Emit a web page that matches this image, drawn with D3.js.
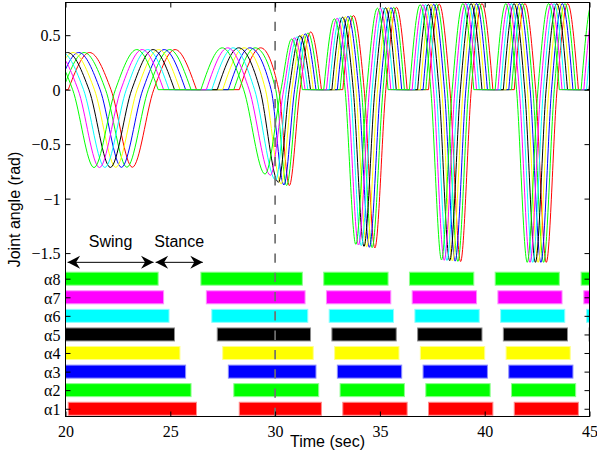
<!DOCTYPE html>
<html><head><meta charset="utf-8">
<script src="https://cdn.jsdelivr.net/npm/d3@7"></script>
<style>body{margin:0;background:#fff}svg{display:block}</style>
</head><body><svg id="c" width="597" height="462"></svg>
<script>
// ---------- data ----------
const rowLabels = ["α1","α2","α3","α4","α5","α6","α7","α8"];
const rowColors = ["#ff0000","#00ff00","#0000ff","#ffff00","#000000","#00ffff","#ff00ff","#00ff00"];
const rowLevels = [-2.929,-2.758,-2.588,-2.417,-2.247,-2.076,-1.906,-1.735];
const angleTicks = [0.5,0,-0.5,-1,-1.5];
const timeTicks = [20,25,30,35,40,45];
const switchTime = 30;
const swingSpan = [20.1,24.2];
const stanceSpan = [24.3,26.55];
const arrowLevel = -1.585;

// key times of each swing cycle: start, peak, zero, trough, zero, peak, end (rows α1..α8)
const cycle0Times = [
  [20.13,21.15,22.17,23.19,24.21,25.23,26.25],
  [19.87,20.89,21.91,22.93,23.95,24.97,25.99],
  [19.61,20.63,21.65,22.67,23.69,24.71,25.73],
  [19.34,20.36,21.38,22.40,23.42,24.44,25.46],
  [19.08,20.10,21.12,22.14,23.16,24.18,25.20],
  [18.82,19.84,20.86,21.88,22.90,23.92,24.94],
  [18.56,19.58,20.60,21.62,22.64,23.66,24.68],
  [18.30,19.32,20.34,21.36,22.38,23.40,24.42]];
const cycle1Times = [
  [28.29,29.31,30.17,30.68,31.19,31.70,32.21],
  [28.03,29.05,30.03,30.55,31.06,31.57,32.08],
  [27.77,28.79,29.81,30.42,30.93,31.44,31.95],
  [27.50,28.52,29.54,30.29,30.80,31.31,31.82],
  [27.24,28.26,29.28,30.16,30.67,31.18,31.69],
  [26.98,28.00,29.02,30.03,30.54,31.05,31.56],
  [26.72,27.74,28.76,29.78,30.41,30.92,31.43],
  [26.46,27.48,28.50,29.52,30.28,30.79,31.30]];
const cycle2Times = [
  [33.23,33.74,34.25,34.76,35.28,35.79,36.30],
  [33.10,33.61,34.12,34.63,35.15,35.66,36.17],
  [32.97,33.48,33.99,34.50,35.02,35.53,36.04],
  [32.84,33.35,33.86,34.37,34.89,35.40,35.91],
  [32.71,33.22,33.73,34.24,34.76,35.27,35.78],
  [32.58,33.09,33.60,34.11,34.63,35.14,35.65],
  [32.45,32.96,33.47,33.98,34.50,35.01,35.52],
  [32.32,32.83,33.34,33.85,34.37,34.88,35.39]];
const cycle3Times = [
  [37.32,37.83,38.34,38.85,39.36,39.87,40.39],
  [37.19,37.70,38.21,38.72,39.23,39.74,40.26],
  [37.06,37.57,38.08,38.59,39.10,39.61,40.13],
  [36.93,37.44,37.95,38.46,38.97,39.48,40.00],
  [36.80,37.31,37.82,38.33,38.84,39.35,39.87],
  [36.67,37.18,37.69,38.20,38.71,39.22,39.74],
  [36.54,37.05,37.56,38.07,38.58,39.09,39.61],
  [36.41,36.92,37.43,37.94,38.45,38.96,39.48]];
const cycle4Times = [
  [41.41,41.92,42.43,42.94,43.45,43.96,44.47],
  [41.28,41.79,42.30,42.81,43.32,43.83,44.34],
  [41.15,41.66,42.17,42.68,43.19,43.70,44.21],
  [41.02,41.53,42.04,42.55,43.06,43.57,44.08],
  [40.89,41.40,41.91,42.42,42.93,43.44,43.95],
  [40.76,41.27,41.78,42.29,42.80,43.31,43.82],
  [40.63,41.14,41.65,42.16,42.67,43.18,43.69],
  [40.50,41.01,41.52,42.03,42.54,43.05,43.56]];
const cycle5Times = [
  null, null, null, null,
  [44.98,45.49,46.00],
  [44.86,45.37,45.88],
  [44.73,45.24,45.75],
  [44.60,45.11,45.62]];

// lobe amplitudes (rad) per cycle, rows α1..α8
const firstPeak = [
  [0.341,0.341,0.341,0.341,0.341,0.341,0.341,0.341],
  [0.384,0.384,0.384,0.384,0.384,0.384,0.384,0.384],
  [0.680,0.677,0.673,0.670,0.665,0.660,0.655,0.650],
  [0.785,0.785,0.784,0.783,0.782,0.781,0.780,0.780],
  [0.790,0.790,0.790,0.790,0.790,0.790,0.790,0.790],
  [0.790,0.790,0.790,0.790,0.790,0.790,0.790,0.790]];
const trough = [
  [-0.712,-0.712,-0.713,-0.713,-0.714,-0.714,-0.715,-0.715],
  [-0.880,-0.880,-0.875,-0.865,-0.850,-0.830,-0.785,-0.775],
  [-1.453,-1.450,-1.447,-1.443,-1.438,-1.432,-1.426,-1.420],
  [-1.578,-1.576,-1.574,-1.572,-1.570,-1.568,-1.566,-1.563],
  [-1.585,-1.585,-1.585,-1.585,-1.585,-1.585,-1.585,-1.585],
  [-1.585,-1.585,-1.585,-1.585,-1.585,-1.585,-1.585,-1.585]];
const secondPeak = [
  [0.368,0.368,0.368,0.368,0.368,0.368,0.368,0.368],
  [0.530,0.520,0.512,0.505,0.495,0.485,0.475,0.465],
  [0.755,0.755,0.753,0.752,0.751,0.750,0.749,0.748],
  [0.790,0.790,0.790,0.790,0.790,0.790,0.790,0.790],
  [0.790,0.790,0.790,0.790,0.790,0.790,0.790,0.790],
  [0.790,0.790,0.790,0.790,0.790,0.790,0.790,0.790]];

const cycles = [cycle0Times,cycle1Times,cycle2Times,cycle3Times,cycle4Times,cycle5Times];

// ---------- drawing ----------
const svg = d3.select("#c");
const x = d3.scaleLinear().domain([20,45]).range([65.5,589.5]);
const y = d3.scaleLinear().domain([-3,0.8]).range([416.5,2.5]);
const [x0,x1] = x.range(), [yb,yt] = y.range();
const SANS = "'Liberation Sans', Arial, Helvetica, sans-serif";
const SERIF = "'Liberation Serif', 'Times New Roman', Times, serif";

svg.append("defs").append("clipPath").attr("id","plot")
  .append("rect").attr("x",x0).attr("y",yt).attr("width",x1-x0).attr("height",yb-yt);

const plot = svg.append("g").attr("clip-path","url(#plot)");

// bars
const barG = plot.append("g");
rowLabels.forEach((lab,k)=>{
  const c = rowColors[k];
  const edge = d3.interpolateRgb(c,"#ffffff")(0.55);
  cycles.forEach(ct=>{
    const t = ct[k]; if(!t) return;
    const s = t[0], e = t.length===7 ? t[6] : x.domain()[1]+1;
    barG.append("rect")
      .attr("x",x(s)).attr("width",x(e)-x(s))
      .attr("y",y(rowLevels[k])-6.5).attr("height",13)
      .attr("fill",c).attr("stroke",edge).attr("stroke-width",1);
  });
});

// curves
const smooth = d3.line().x(d=>x(d[0])).y(d=>y(d[1])).curve(d3.curveMonotoneX);
const straight = d3.line().x(d=>x(d[0])).y(d=>y(d[1]));
const curveG = plot.append("g").attr("fill","none").attr("stroke-width",1);
rowLabels.forEach((lab,k)=>{
  const c = rowColors[k];
  let prevEnd = 18;
  cycles.forEach((ct,p)=>{
    const t = ct[k]; if(!t) return;
    const vals = [0, firstPeak[p][k], 0, trough[p][k], 0, secondPeak[p][k], 0];
    const pts = t.map((tt,i)=>[tt, vals[i]]);
    curveG.append("path").attr("d",straight([[prevEnd,0],[t[0],0]])).attr("stroke",c);
    curveG.append("path").attr("d",smooth(pts)).attr("stroke",c);
    prevEnd = t.length===7 ? t[6] : null;
  });
  if(prevEnd!==null) curveG.append("path").attr("d",straight([[prevEnd,0],[46,0]])).attr("stroke",c);
});

// dashed switch line
svg.append("line").attr("x1",x(switchTime)).attr("x2",x(switchTime))
  .attr("y1",yt).attr("y2",yb).attr("stroke","#707070").attr("stroke-width",1.7)
  .attr("stroke-dasharray","9.3,10");

// frame
svg.append("rect").attr("x",x0).attr("y",yt).attr("width",x1-x0).attr("height",yb-yt)
  .attr("fill","none").attr("stroke","#000").attr("stroke-width",1);

// axes
const leftTicks = angleTicks.concat(rowLevels);
const fmtY = v => { const i = rowLevels.indexOf(v); return i>=0 ? rowLabels[i] : d3.format("")(v); };
function styleAxis(g){
  g.select(".domain").remove();
  g.selectAll(".tick line").attr("stroke","#000");
  g.selectAll("text").attr("font-family",SERIF).attr("font-size",16).attr("fill","#000");
}
svg.append("g").attr("transform",`translate(${x0},0)`)
  .call(d3.axisLeft(y).tickValues(leftTicks).tickSize(-5).tickPadding(5).tickFormat(fmtY))
  .call(styleAxis).selectAll("text").attr("dy","0.36em");
svg.append("g").attr("transform",`translate(${x1},0)`)
  .call(d3.axisRight(y).tickValues(leftTicks).tickSize(-5).tickFormat(""))
  .call(styleAxis);
svg.append("g").attr("transform",`translate(0,${yb})`)
  .call(d3.axisBottom(x).tickValues(timeTicks).tickSize(-5).tickPadding(9).tickFormat(d3.format("d")))
  .call(styleAxis);
svg.append("g").attr("transform",`translate(0,${yt})`)
  .call(d3.axisTop(x).tickValues(timeTicks).tickSize(-5).tickFormat(""))
  .call(styleAxis);

// axis labels
svg.append("text").attr("x",(x0+x1)/2).attr("y",447).attr("text-anchor","middle")
  .attr("font-family",SANS).attr("font-size",16).text("Time (sec)");
svg.append("text").attr("transform",`translate(20,${(yt+yb)/2}) rotate(-90)`)
  .attr("text-anchor","middle").attr("font-family",SANS).attr("font-size",16).text("Joint angle (rad)");

// swing / stance annotation
function arrowHead(tx,ty,dir){
  return `M${tx},${ty}L${tx-dir*12.5},${ty-6.5}L${tx-dir*8.5},${ty}L${tx-dir*12.5},${ty+6.5}Z`;
}
const ann = svg.append("g");
[[swingSpan,"Swing"],[stanceSpan,"Stance"]].forEach(([sp,label])=>{
  const ay = y(arrowLevel), a = x(sp[0]), b = x(sp[1]);
  ann.append("line").attr("x1",a).attr("x2",b).attr("y1",ay).attr("y2",ay).attr("stroke","#000").attr("stroke-width",1);
  ann.append("path").attr("d",arrowHead(a,ay,-1)).attr("fill","#000");
  ann.append("path").attr("d",arrowHead(b,ay,1)).attr("fill","#000");
  ann.append("text").attr("x",(a+b)/2).attr("y",ay-15).attr("text-anchor","middle")
    .attr("font-family",SANS).attr("font-size",16).text(label);
});
</script>
</body></html>
